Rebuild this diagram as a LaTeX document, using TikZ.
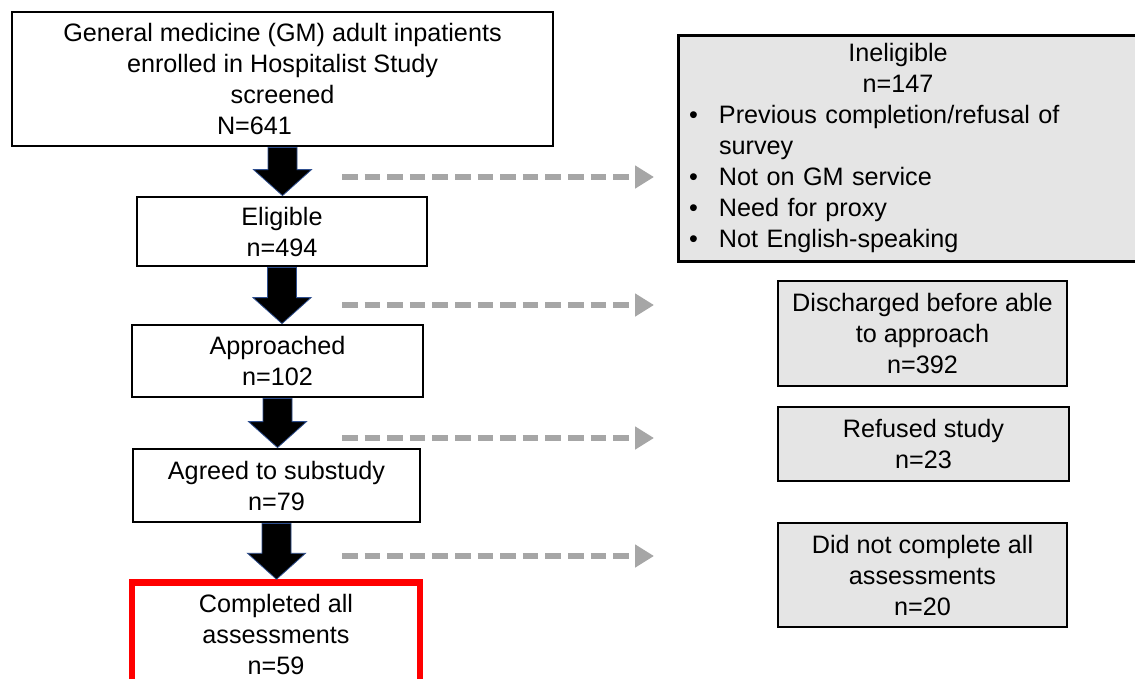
\documentclass[tikz,border=0pt]{standalone}
\usepackage{fontspec}
\setmainfont{Liberation Sans}
\usetikzlibrary{calc,arrows.meta}
\definecolor{arrowedge}{HTML}{2F4F8F}
\definecolor{skipgray}{HTML}{A6A6A6}
\newcommand{\boxfont}{\fontsize{25.2}{31}\selectfont}

\begin{document}
\begin{tikzpicture}[x=1pt, y=-1pt,
    stepbox/.style={draw, line width=2.8pt, fill=white, align=center, inner sep=0pt, font=\boxfont},
    sidebox/.style={stepbox, fill=black!10},
    finalbox/.style={stepbox, draw=red, line width=6.5pt},
    blockarrow/.style={fill=black, draw=arrowedge, line width=0.8pt},
    skiparrow/.style={draw=skipgray, line width=5.5pt, dash pattern=on 15.5pt off 7.1pt, -{Triangle[length=19pt,width=22pt]}}]
    \useasboundingbox (0,0) rectangle (1135,678);
    \clip (0,0) rectangle (1135,678);
    \fill[white] (0,0) rectangle (1135,678);

    % main column
    \node[stepbox, minimum width=541pt, minimum height=134pt] (screen) at (282.5,79) {General medicine (GM) adult inpatients\\enrolled in Hospitalist Study\\screened\\N=641\hspace*{56pt}};
    \node[stepbox, minimum width=290pt, minimum height=69pt] (elig) at (282,231.5) {Eligible\\n=494};
    \node[stepbox, minimum width=291pt, minimum height=72pt] (appr) at (277.5,361) {Approached\\n=102};
    \node[stepbox, minimum width=287pt, minimum height=73pt] (agree) at (276.5,485.5) {Agreed to substudy\\n=79};
    \node[finalbox, minimum width=288pt, minimum height=103pt] (done) at (276,634) {Completed all\\assessments\\n=59};

    % excluded boxes
    \node[sidebox, anchor=north west, minimum width=480pt, minimum height=226pt] (inel) at (677,34) {};
    \node[font=\boxfont, text width=430pt, align=left, inner sep=0pt] (ineltext) at (898,147.5) {%
        {\centering Ineligible\\n=147\par}
        \makebox[36pt][l]{\hspace*{6pt}\textbullet}Previous completion/refusal of\\
        \hspace*{36pt}survey\\
        \makebox[36pt][l]{\hspace*{6pt}\textbullet}Not on GM service\\
        \makebox[36pt][l]{\hspace*{6pt}\textbullet}Need for proxy\\
        \makebox[36pt][l]{\hspace*{6pt}\textbullet}Not English-speaking};
    \node[sidebox, minimum width=289pt, minimum height=105pt] (disch) at (922.5,333.5) {Discharged before able\\to approach\\n=392};
    \node[sidebox, minimum width=291pt, minimum height=74pt] (refus) at (923.5,444) {Refused study\\n=23};
    \node[sidebox, minimum width=289pt, minimum height=104pt] (incompl) at (922.5,575) {Did not complete all\\assessments\\n=20};

    % block arrows
    \foreach \a/\b in {screen/elig, elig/appr, appr/agree, agree/done} {
        \coordinate (tip) at (\a.south |- \b.north);
        \draw[blockarrow] ($(\a.south)+(-14.5,0)$) -- ($(\a.south)+(14.5,0)$) -- ($(tip)+(14.5,-26)$) -- ($(tip)+(29,-26)$) -- (tip) -- ($(tip)+(-29,-26)$) -- ($(tip)+(-14.5,-26)$) -- cycle;
    }

    % dashed arrows
    \foreach \y/\n in {177/1, 305/2, 438/3, 556/4} {
        \coordinate (ds\n) at (342,\y);
        \coordinate (de\n) at (654,\y);
        \draw[skiparrow] (ds\n) -- (de\n);
    }
\end{tikzpicture}
\end{document}
